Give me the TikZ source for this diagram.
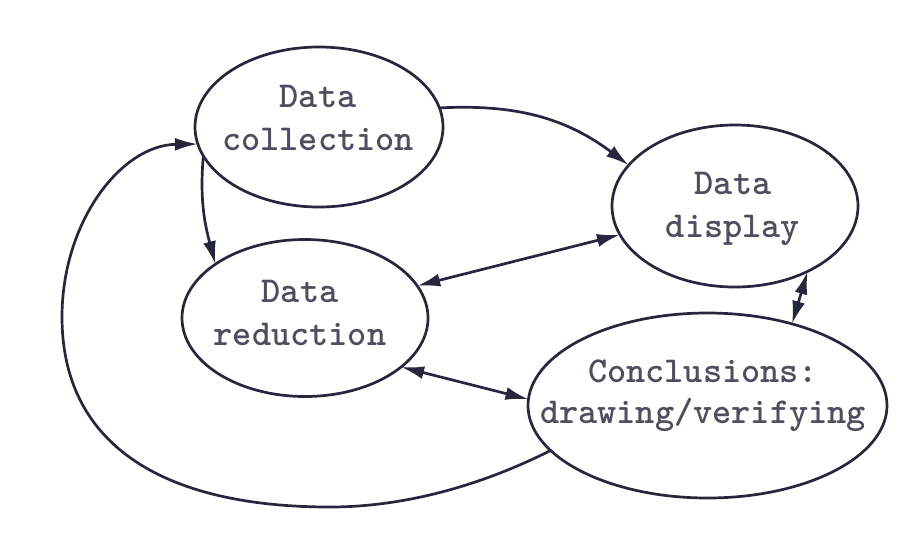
\documentclass[tikz,border=0pt]{standalone}
\usetikzlibrary{shapes.geometric,arrows.meta}
\definecolor{ink}{RGB}{38,38,60}
\definecolor{txt}{RGB}{78,78,94}
\begin{document}
\begin{tikzpicture}[x=1pt,y=-1pt,
  oval/.style={draw=ink,line width=2.7pt,ellipse,inner sep=0pt,outer sep=0pt},
  lbl/.style={anchor=north,inner sep=0pt,align=center,text=txt,
    font=\ttfamily\bfseries\fontsize{36.5}{43}\selectfont},
  link/.style={draw=ink,line width=2.7pt},
  onehead/.style={-{Latex[length=23pt,width=13pt]}},
  twoheads/.style={{Latex[length=23pt,width=13pt]}-{Latex[length=23pt,width=13pt]}}]
\useasboundingbox[fill=white] (0,0) rectangle (915,555);

% ellipses
\node[oval,minimum width=248pt,minimum height=160pt] (col) at (319,127) {};
\node[oval,minimum width=246pt,minimum height=162pt] (disp) at (735,206) {};
\node[oval,minimum width=246pt,minimum height=157pt] (red) at (305,318) {};
\node[oval,minimum width=359pt,minimum height=185pt] (concl) at (707.5,405.5) {};

% labels
\node[lbl] (col-t) at (318,85) {Data\\collection};
\node[lbl] (disp-t) at (733,172) {Data\\display};
\node[lbl] (red-t) at (300,280) {Data\\reduction};
\node[lbl,font=\ttfamily\bfseries\fontsize{36.5}{41}\selectfont] (concl-t) at (703,360) {Conclusions:\\drawing/verifying};

% connectors
\draw[link,onehead] (col.9) to[out=3,in=143] (disp.159);
\draw[link,onehead] (col.-166) to[out=-95,in=105] (red.149);
\draw[link,twoheads] (disp.194) -- (red.16);
\draw[link,twoheads] (disp.-42) -- (concl.44);
\draw[link,twoheads] (red.-27) -- (concl.178);
% feedback loop round the left side
\draw[link,onehead] (concl.196) .. controls (476,488) and (400,507) .. (330,507)
  .. controls (156,507) and (62,440) .. (62,317)
  .. controls (62,222) and (121,145) .. (col.188);
\end{tikzpicture}
\end{document}
